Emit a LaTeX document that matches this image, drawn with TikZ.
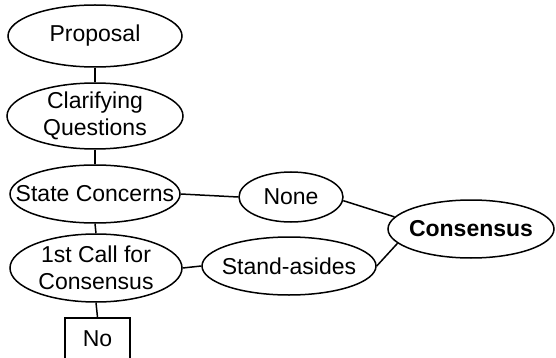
\documentclass[tikz,border=0pt]{standalone}
\usepackage{fontspec}
\setmainfont{Liberation Sans}
\usetikzlibrary{shapes.geometric}
\begin{document}
\begin{tikzpicture}[x=1pt,y=-1pt,
  every node/.style={font=\fontsize{23}{27}\selectfont, inner sep=0pt, align=center},
  every label/.style={font=\fontsize{23}{27}\selectfont, inner sep=0pt, align=center},
  oval/.style={draw, ellipse, line width=1.5pt},
  conn/.style={line width=1.5pt}]
\clip (0,0) rectangle (556,358);
\fill[white] (0,0) rectangle (556,358);
\node[oval, minimum width=174, minimum height=62, label=center:Proposal] (prop) at (95,36) {};
\node[oval, minimum width=176, minimum height=66, label={center:Clarifying\\Questions}] (clar) at (95,116) {};
\node[oval, minimum width=170, minimum height=58, label=center:State Concerns] (state) at (95,194) {};
\node[oval, minimum width=172, minimum height=68, label={center:1st Call for\\Consensus}] (call) at (96,268) {};
\node[draw, line width=1.5pt, minimum width=65, minimum height=56, text depth=14pt] (no) at (97.5,346) {No};
\node[oval, minimum width=104, minimum height=50, label=center:None] (none) at (291,197) {};
\node[oval, minimum width=174, minimum height=58, label=center:Stand-asides] (stand) at (289,266) {};
\node[oval, minimum width=166, minimum height=58, label={[font=\fontsize{23}{27}\selectfont\bfseries]center:Consensus}] (cons) at (471,229) {};
\draw[conn] (prop) -- (clar);
\draw[conn] (clar) -- (state);
\draw[conn] (state.south) -- (call.north);
\draw[conn] (call.south) -- (no.north);
\draw[conn] (state.east) -- (none.west);
\draw[conn] (call.east) -- (stand.west);
\draw[conn] (none.-4) -- (cons.171);
\draw[conn] (stand.east) -- (cons.191);
\end{tikzpicture}
\end{document}
